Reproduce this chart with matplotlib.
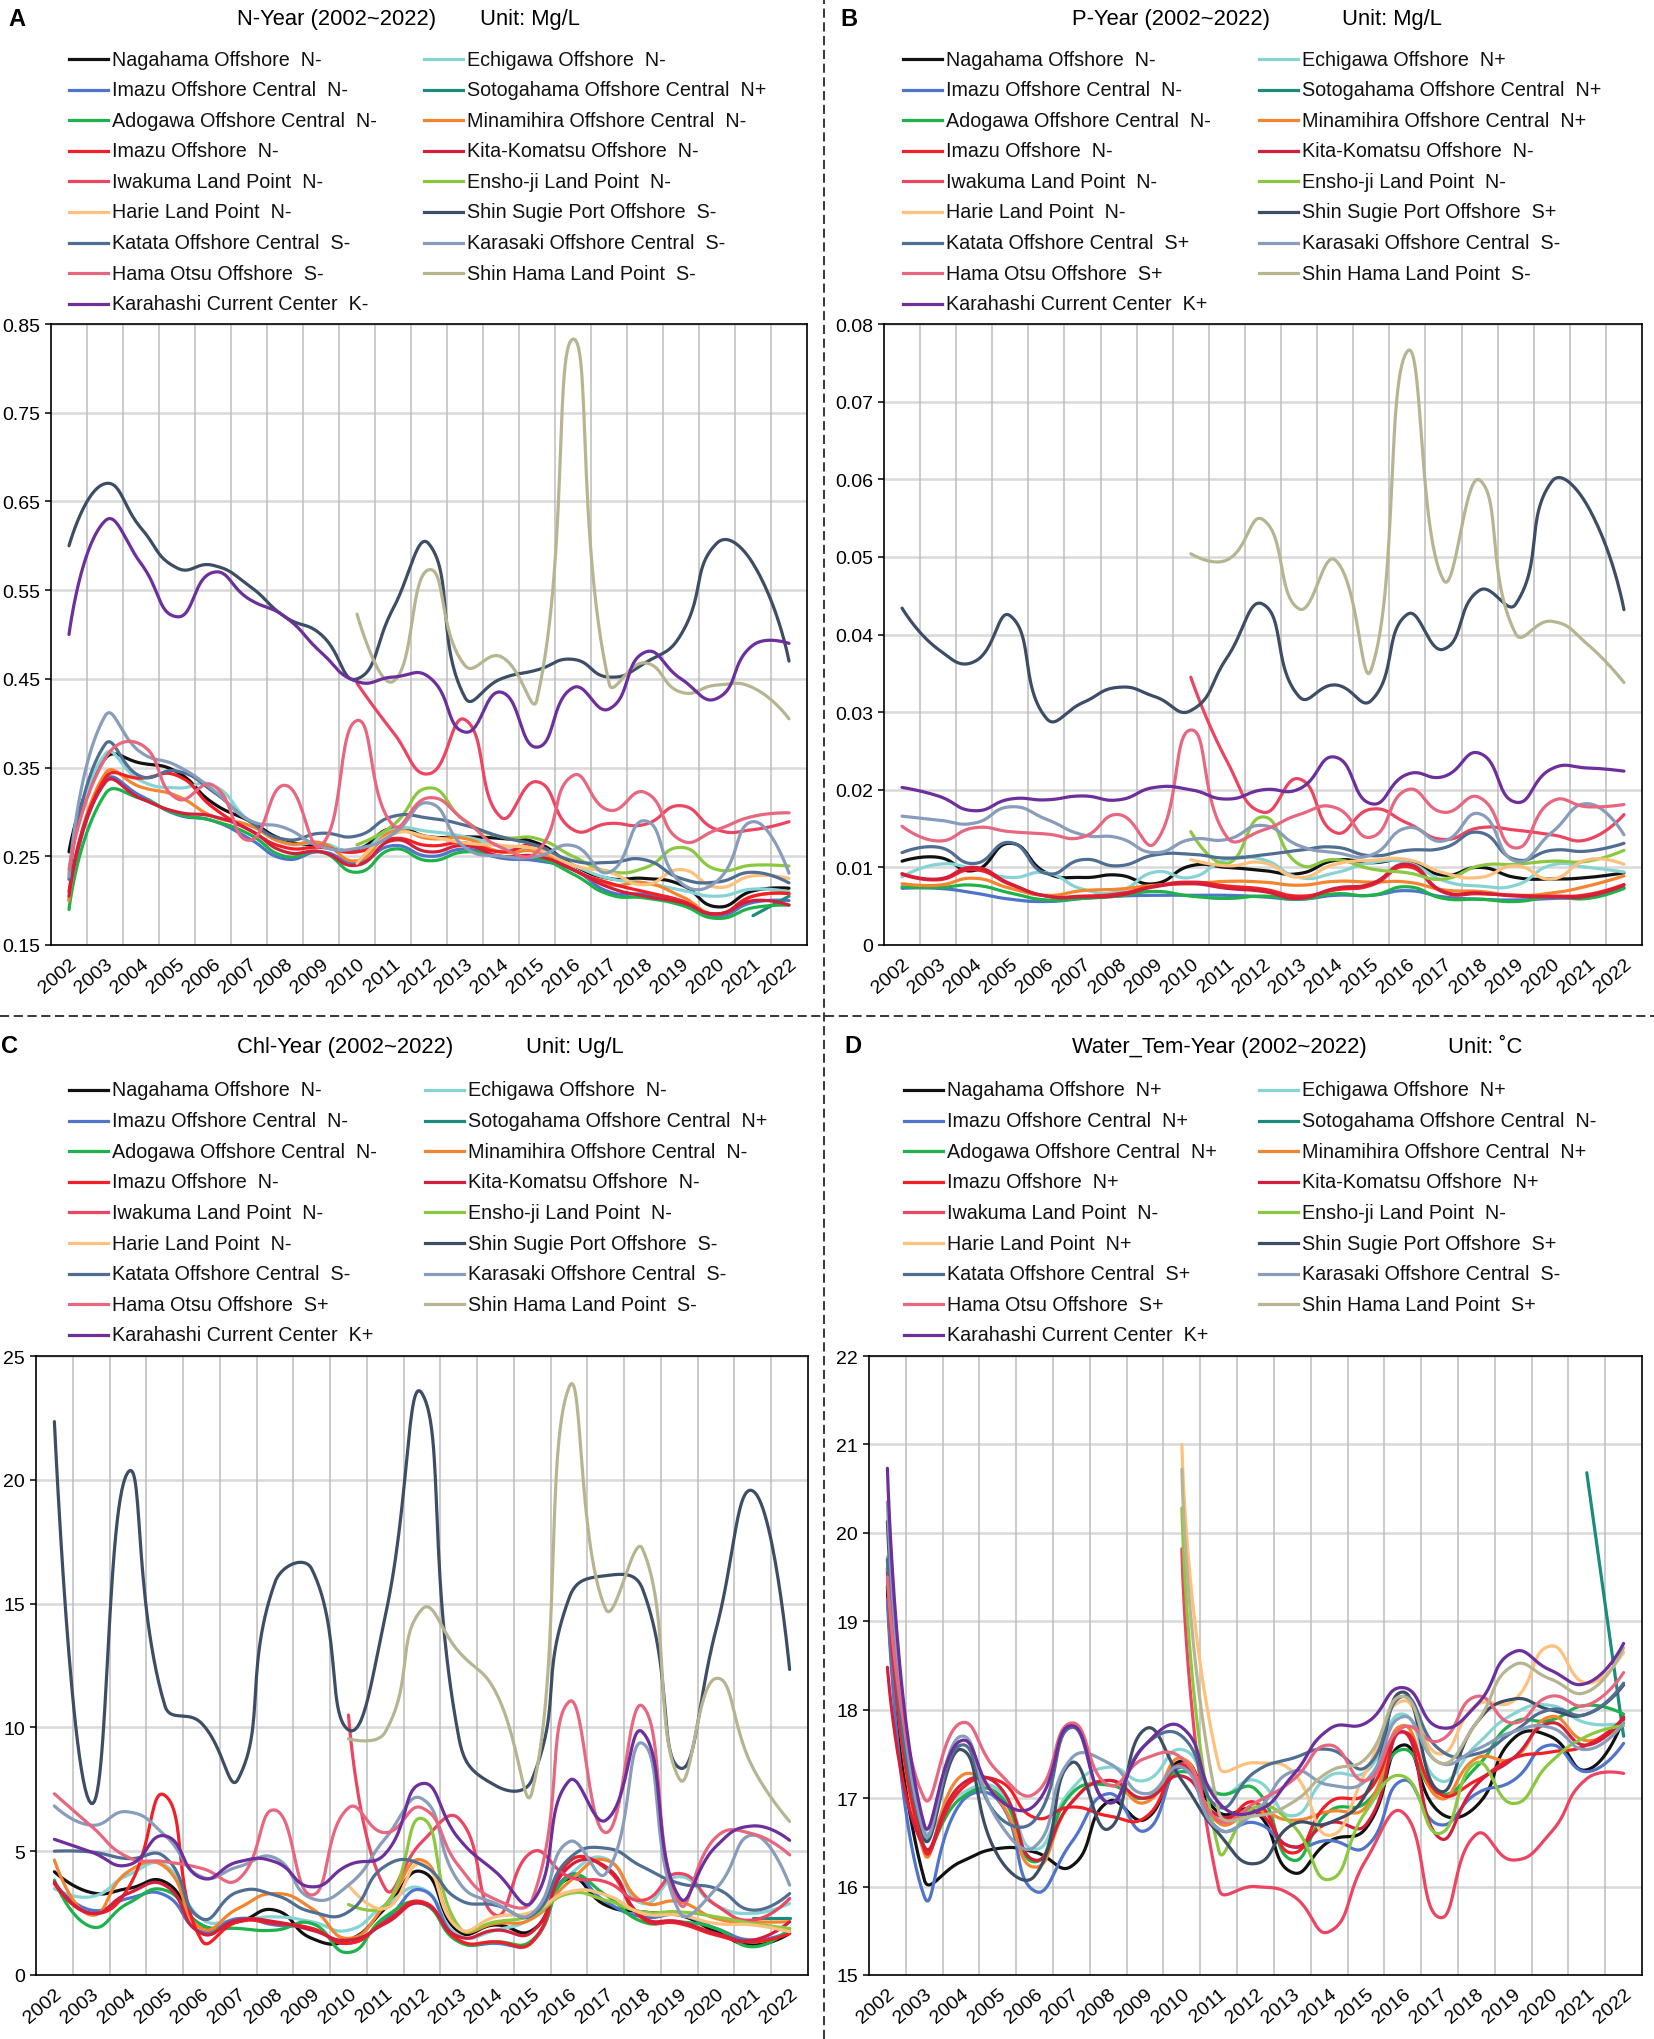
import numpy as np
import matplotlib
matplotlib.use('Agg')
import matplotlib.pyplot as plt
from matplotlib.lines import Line2D

plt.rcParams['font.family'] = ['Liberation Sans', 'DejaVu Sans']

YEARS = [str(y) for y in range(2002, 2023)]
NA = [None] * 8

STATIONS = ['Nagahama Offshore', 'Imazu Offshore Central', 'Adogawa Offshore Central',
            'Imazu Offshore', 'Iwakuma Land Point', 'Harie Land Point',
            'Katata Offshore Central', 'Hama Otsu Offshore', 'Karahashi Current Center',
            'Echigawa Offshore', 'Sotogahama Offshore Central', 'Minamihira Offshore Central',
            'Kita-Komatsu Offshore', 'Ensho-ji Land Point', 'Shin Sugie Port Offshore',
            'Karasaki Offshore Central', 'Shin Hama Land Point']
COLORS = ['#111111', '#4f74c9', '#1db34a', '#f21f26', '#eb4561', '#fec17d',
          '#4f6e92', '#e6677f', '#6c2f9b', '#86d3d3', '#1b8c7c', '#f5842e',
          '#d31f3c', '#8bc840', '#3c4d66', '#879dbb', '#b7b591']

# ---- Panel A: N ----
N_TREND = ['N-', 'N-', 'N-', 'N-', 'N-', 'N-', 'S-', 'S-', 'K-',
           'N-', 'N+', 'N-', 'N-', 'N-', 'S-', 'S-', 'S-']
N_nagahama = [0.255, 0.36, 0.355, 0.345, 0.31, 0.29, 0.268, 0.262, 0.258, 0.282, 0.272, 0.272, 0.27, 0.265, 0.24, 0.225, 0.225, 0.218, 0.193, 0.211, 0.214]
N_imazu_c = [0.20, 0.335, 0.318, 0.297, 0.29, 0.27, 0.247, 0.255, 0.243, 0.262, 0.25, 0.258, 0.248, 0.245, 0.235, 0.21, 0.207, 0.2, 0.183, 0.198, 0.2]
N_adogawa = [0.19, 0.32, 0.315, 0.298, 0.29, 0.275, 0.25, 0.255, 0.232, 0.258, 0.245, 0.255, 0.25, 0.248, 0.23, 0.207, 0.203, 0.195, 0.18, 0.192, 0.195]
N_imazu = [0.21, 0.338, 0.338, 0.341, 0.305, 0.28, 0.26, 0.26, 0.255, 0.27, 0.262, 0.265, 0.255, 0.262, 0.235, 0.22, 0.21, 0.2, 0.185, 0.205, 0.208]
N_iwakuma = NA + [0.445, 0.39, 0.343, 0.404, 0.294, 0.334, 0.28, 0.287, 0.286, 0.307, 0.28, 0.28, 0.289]
N_harie = NA + [0.242, 0.275, 0.272, 0.265, 0.262, 0.258, 0.24, 0.232, 0.218, 0.235, 0.215, 0.228, 0.225]
N_katata = [0.224, 0.376, 0.34, 0.346, 0.323, 0.29, 0.269, 0.276, 0.273, 0.295, 0.293, 0.285, 0.272, 0.262, 0.245, 0.243, 0.246, 0.225, 0.221, 0.232, 0.22]
N_hamaotsu = [0.235, 0.36, 0.376, 0.315, 0.33, 0.268, 0.33, 0.262, 0.403, 0.285, 0.316, 0.29, 0.26, 0.255, 0.341, 0.302, 0.322, 0.268, 0.28, 0.295, 0.299]
N_karahashi = [0.50, 0.628, 0.58, 0.52, 0.57, 0.54, 0.52, 0.48, 0.447, 0.452, 0.452, 0.39, 0.435, 0.373, 0.44, 0.416, 0.48, 0.45, 0.428, 0.488, 0.49]
N_echigawa = [0.23, 0.365, 0.335, 0.327, 0.33, 0.29, 0.265, 0.265, 0.255, 0.28, 0.278, 0.272, 0.262, 0.255, 0.24, 0.225, 0.22, 0.212, 0.205, 0.213, 0.21]
N_sotogahama = [None] * 19 + [0.183, 0.205]
N_minamihira = [0.2, 0.343, 0.328, 0.318, 0.295, 0.285, 0.265, 0.265, 0.245, 0.278, 0.27, 0.27, 0.255, 0.255, 0.235, 0.218, 0.22, 0.205, 0.185, 0.205, 0.208]
N_kita = [0.205, 0.333, 0.315, 0.3, 0.295, 0.28, 0.255, 0.255, 0.24, 0.268, 0.255, 0.262, 0.25, 0.25, 0.235, 0.215, 0.205, 0.198, 0.185, 0.2, 0.195]
N_ensho = NA + [0.263, 0.285, 0.327, 0.29, 0.272, 0.27, 0.25, 0.233, 0.237, 0.26, 0.235, 0.24, 0.239]
N_shinsugie = [0.60, 0.67, 0.62, 0.575, 0.578, 0.555, 0.52, 0.50, 0.45, 0.529, 0.602, 0.429, 0.45, 0.46, 0.472, 0.452, 0.468, 0.50, 0.603, 0.58, 0.47]
N_karasaki = [0.227, 0.408, 0.367, 0.352, 0.325, 0.291, 0.282, 0.261, 0.259, 0.275, 0.31, 0.26, 0.25, 0.25, 0.262, 0.232, 0.29, 0.22, 0.222, 0.289, 0.231]
N_shinhama = NA + [0.523, 0.447, 0.573, 0.465, 0.475, 0.427, 0.833, 0.445, 0.468, 0.435, 0.443, 0.44, 0.405]

# ---- Panel B: P ----
P_TREND = ['N-', 'N-', 'N-', 'N-', 'N-', 'N-', 'S+', 'S+', 'K+',
           'N+', 'N+', 'N+', 'N-', 'N-', 'S+', 'S-', 'S-']
P_nagahama = [0.0108, 0.0113, 0.0096, 0.0131, 0.0093, 0.0087, 0.009, 0.0079, 0.0102, 0.01, 0.0096, 0.0092, 0.0109, 0.0106, 0.0109, 0.009, 0.01, 0.0087, 0.0085, 0.0087, 0.0093]
P_imazu_c = [0.0073, 0.0073, 0.0067, 0.0059, 0.0056, 0.006, 0.0063, 0.0064, 0.0064, 0.0064, 0.0062, 0.0059, 0.0064, 0.0064, 0.007, 0.0062, 0.0059, 0.0058, 0.006, 0.0062, 0.0073]
P_adogawa = [0.0075, 0.0074, 0.0077, 0.0067, 0.0058, 0.006, 0.0063, 0.0069, 0.0063, 0.006, 0.0063, 0.0059, 0.0066, 0.0064, 0.0075, 0.006, 0.0059, 0.0056, 0.0062, 0.006, 0.0073]
P_imazu = [0.0091, 0.0084, 0.0097, 0.0078, 0.0063, 0.0063, 0.0066, 0.0076, 0.0081, 0.0076, 0.0072, 0.0063, 0.0071, 0.0077, 0.0101, 0.0068, 0.0066, 0.0064, 0.0063, 0.0065, 0.0078]
P_iwakuma = NA + [0.0345, 0.0237, 0.0171, 0.0214, 0.0145, 0.0175, 0.0157, 0.0136, 0.0151, 0.0148, 0.0142, 0.0136, 0.0168]
P_harie = NA + [0.011, 0.0102, 0.0106, 0.0087, 0.0104, 0.0109, 0.011, 0.0093, 0.0087, 0.0102, 0.0085, 0.011, 0.0104]
P_katata = [0.0119, 0.0126, 0.0105, 0.0132, 0.0092, 0.011, 0.0102, 0.0116, 0.0117, 0.0112, 0.0116, 0.0122, 0.0126, 0.0115, 0.0122, 0.0125, 0.0145, 0.011, 0.0122, 0.0121, 0.0131]
P_hamaotsu = [0.0153, 0.0134, 0.0151, 0.0146, 0.0143, 0.0139, 0.0168, 0.0131, 0.0277, 0.0139, 0.0148, 0.0168, 0.0177, 0.0139, 0.02, 0.0171, 0.019, 0.0125, 0.0185, 0.0178, 0.0181]
P_karahashi = [0.0203, 0.0192, 0.0173, 0.0188, 0.0187, 0.0192, 0.0187, 0.0203, 0.02, 0.0188, 0.02, 0.0201, 0.0242, 0.0182, 0.022, 0.0217, 0.0247, 0.0184, 0.0227, 0.0228, 0.0224]
P_echigawa = [0.0088, 0.0104, 0.0098, 0.0087, 0.0093, 0.0072, 0.0069, 0.0094, 0.0087, 0.011, 0.011, 0.0087, 0.0093, 0.0106, 0.0106, 0.0083, 0.0076, 0.0077, 0.0103, 0.01, 0.0094]
P_sotogahama = [None] * 19 + [0.0062, 0.0074]
P_minamihira = [0.0079, 0.0077, 0.0086, 0.0073, 0.0064, 0.007, 0.0072, 0.0077, 0.0079, 0.0082, 0.0081, 0.0077, 0.0082, 0.0081, 0.0081, 0.0071, 0.0069, 0.0064, 0.0067, 0.0076, 0.0089]
P_kita = [0.0092, 0.0085, 0.01, 0.0079, 0.0063, 0.0062, 0.0064, 0.0075, 0.0079, 0.0073, 0.0069, 0.006, 0.0073, 0.0079, 0.0104, 0.0069, 0.0067, 0.0063, 0.0062, 0.0063, 0.0077]
P_ensho = NA + [0.0146, 0.0105, 0.0165, 0.0104, 0.011, 0.0098, 0.0093, 0.0085, 0.0102, 0.0104, 0.0108, 0.0108, 0.0122]
P_shinsugie = [0.0434, 0.0381, 0.0365, 0.0424, 0.0292, 0.0312, 0.0332, 0.032, 0.0302, 0.037, 0.0439, 0.032, 0.0335, 0.0315, 0.0426, 0.0381, 0.0457, 0.0439, 0.0597, 0.0565, 0.0432]
P_karasaki = [0.0166, 0.0161, 0.0157, 0.0178, 0.0162, 0.0142, 0.0138, 0.0119, 0.0136, 0.0136, 0.0154, 0.0128, 0.0119, 0.0116, 0.0151, 0.0134, 0.0169, 0.0108, 0.0145, 0.0182, 0.0142]
P_shinhama = NA + [0.0504, 0.0496, 0.0548, 0.0433, 0.0496, 0.0355, 0.0765, 0.047, 0.0599, 0.0401, 0.0417, 0.0387, 0.0338]

# ---- Panel C: Chl ----
C_TREND = ['N-', 'N-', 'N-', 'N-', 'N-', 'N-', 'S-', 'S+', 'K+',
           'N-', 'N+', 'N-', 'N-', 'N-', 'S-', 'S-', 'S-']
C_nagahama = [4.17, 3.33, 3.49, 3.76, 2.02, 2.15, 2.62, 1.48, 1.41, 2.69, 4.17, 1.75, 2.02, 1.81, 3.9, 2.82, 2.55, 2.42, 1.75, 1.21, 1.68]
C_imazu_c = [3.7, 2.62, 3.09, 3.23, 1.75, 2.28, 2.02, 1.88, 1.28, 2.22, 3.43, 1.41, 1.28, 1.34, 4.03, 2.96, 2.35, 2.42, 1.88, 1.41, 1.75]
C_adogawa = [3.83, 1.95, 2.89, 3.43, 2.02, 1.88, 1.81, 2.08, 0.91, 2.35, 2.89, 1.34, 1.34, 1.41, 3.97, 3.23, 2.15, 2.15, 1.88, 1.14, 1.88]
C_imazu = [3.7, 2.49, 3.49, 7.26, 1.41, 2.15, 2.08, 1.88, 1.28, 2.15, 2.96, 1.41, 1.34, 1.34, 4.57, 4.3, 2.28, 2.08, 1.61, 1.34, 1.68]
C_iwakuma = NA + [10.5, 3.49, 5.38, 6.32, 2.42, 4.97, 3.97, 3.76, 3.02, 4.1, 2.82, 2.22, 3.09]
C_harie = NA + [3.63, 2.69, 4.5, 1.88, 2.35, 2.55, 3.36, 3.23, 2.49, 2.42, 2.08, 2.02, 1.75]
C_katata = [5.0, 4.97, 4.7, 4.77, 2.28, 3.36, 3.23, 2.55, 2.55, 4.4, 4.45, 3.05, 2.82, 2.42, 4.7, 5.12, 4.37, 3.7, 3.49, 2.62, 3.29]
C_hamaotsu = [7.32, 6.02, 4.76, 4.58, 4.31, 3.86, 6.66, 3.23, 6.75, 5.75, 6.75, 4.4, 3.05, 3.05, 11.04, 5.75, 10.86, 2.9, 5.57, 5.7, 4.85]
C_karahashi = [5.48, 4.97, 4.44, 5.62, 3.92, 4.57, 4.57, 3.56, 4.44, 4.9, 7.73, 5.51, 4.17, 2.96, 7.84, 6.25, 9.81, 3.14, 5.2, 6.02, 5.44]
C_echigawa = [3.49, 3.16, 4.03, 4.44, 2.28, 2.22, 2.35, 2.15, 1.81, 2.82, 3.49, 1.61, 1.81, 2.35, 4.03, 4.7, 2.89, 3.97, 2.82, 2.49, 2.89]
C_sotogahama = [None] * 19 + [2.3, 2.3]
C_minamihira = [4.64, 2.42, 4.17, 4.37, 1.88, 2.69, 3.29, 2.69, 1.48, 2.82, 4.64, 1.88, 2.08, 2.28, 3.76, 4.64, 2.96, 2.96, 2.28, 2.15, 2.15]
C_kita = [3.76, 2.49, 3.29, 3.63, 1.68, 2.22, 2.15, 1.81, 1.41, 2.08, 2.89, 1.55, 1.81, 1.75, 4.37, 4.37, 2.35, 2.15, 1.68, 1.41, 2.15]
C_ensho = NA + [2.85, 2.82, 6.32, 1.95, 2.15, 2.42, 3.29, 3.02, 2.55, 2.55, 2.35, 2.08, 1.88]
C_shinsugie = [22.35, 6.93, 20.3, 10.9, 10.17, 7.92, 15.86, 16.4, 9.9, 14.5, 23.49, 9.6, 7.65, 7.92, 15.22, 16.13, 15.59, 8.37, 13.96, 19.55, 12.34]
C_karasaki = [6.83, 6.05, 6.59, 5.65, 3.97, 4.37, 4.73, 3.09, 3.63, 5.51, 7.12, 3.76, 2.89, 2.49, 5.38, 4.1, 9.36, 2.55, 3.49, 5.65, 3.63]
C_shinhama = NA + [9.54, 9.81, 14.77, 13.06, 11.44, 7.43, 23.74, 14.77, 17.21, 7.92, 11.98, 8.37, 6.2]

# ---- Panel D: Water temperature ----
D_TREND = ['N+', 'N+', 'N+', 'N+', 'N-', 'N+', 'S+', 'S+', 'K+',
           'N+', 'N-', 'N+', 'N+', 'N-', 'S+', 'S-', 'S+']
D_nagahama = [19.4, 16.08, 16.28, 16.43, 16.39, 16.23, 16.96, 16.76, 17.42, 16.84, 16.85, 16.16, 16.51, 16.66, 17.6, 16.84, 16.91, 17.67, 17.7, 17.32, 17.9]
D_imazu_c = [19.25, 15.89, 16.95, 16.98, 15.95, 16.5, 17.05, 16.63, 17.35, 16.65, 16.72, 16.45, 16.52, 16.45, 17.2, 16.7, 17.05, 17.2, 17.6, 17.3, 17.62]
D_adogawa = [19.6, 16.45, 17.0, 17.05, 16.28, 17.05, 17.15, 17.0, 17.3, 17.05, 17.1, 16.3, 16.85, 16.95, 17.55, 17.05, 17.35, 17.85, 17.88, 18.05, 17.95]
D_imazu = [19.55, 16.42, 17.1, 17.2, 16.78, 16.9, 16.8, 16.78, 17.38, 16.75, 16.95, 16.38, 16.95, 17.05, 17.75, 17.05, 17.2, 17.45, 17.52, 17.6, 17.9]
D_iwakuma = NA + [19.82, 15.98, 16.0, 15.9, 15.49, 16.3, 16.84, 15.65, 16.59, 16.3, 16.6, 17.22, 17.28]
D_harie = NA + [21.0, 17.37, 17.4, 17.3, 16.58, 17.3, 18.1, 17.5, 18.05, 18.1, 18.72, 18.3, 18.65]
D_katata = [19.7, 16.6, 17.6, 16.8, 16.75, 17.8, 16.95, 17.6, 17.7, 16.9, 17.3, 17.45, 17.55, 17.35, 18.15, 17.55, 17.5, 17.75, 18.0, 17.95, 18.3]
D_hamaotsu = [19.5, 17.0, 17.85, 17.3, 17.05, 17.85, 17.15, 17.45, 17.45, 16.75, 16.95, 17.2, 17.6, 17.2, 17.8, 17.65, 18.15, 17.85, 18.15, 18.05, 18.42]
D_karahashi = [20.73, 16.7, 17.65, 17.0, 16.92, 17.82, 16.95, 17.6, 17.8, 16.95, 16.85, 17.25, 17.78, 17.85, 18.25, 17.8, 18.05, 18.65, 18.45, 18.3, 18.75]
D_echigawa = [19.73, 16.65, 17.05, 17.1, 16.42, 17.1, 17.35, 17.2, 17.55, 17.05, 17.2, 16.8, 17.25, 17.3, 17.95, 17.2, 17.6, 17.95, 18.05, 17.85, 17.85]
D_sotogahama = [None] * 19 + [20.68, 17.7]
D_minamihira = [19.6, 16.38, 17.25, 17.0, 16.22, 16.95, 17.2, 16.95, 17.45, 16.72, 16.85, 16.75, 16.85, 16.9, 17.82, 17.0, 17.45, 17.45, 17.92, 17.65, 17.85]
D_kita = [18.48, 16.45, 17.15, 17.15, 16.3, 16.95, 17.2, 17.0, 17.25, 16.8, 16.85, 16.45, 16.72, 16.7, 17.75, 16.55, 17.15, 17.45, 17.85, 17.6, 17.92]
D_ensho = NA + [20.28, 16.41, 16.9, 16.7, 16.08, 16.85, 17.25, 16.6, 17.4, 16.94, 17.4, 17.7, 17.82]
D_shinsugie = [20.13, 16.55, 17.55, 16.35, 16.12, 17.4, 16.65, 17.78, 17.2, 16.6, 16.26, 16.7, 16.72, 17.05, 18.2, 17.08, 17.85, 18.12, 18.0, 17.95, 18.28]
D_karasaki = [20.35, 16.6, 17.7, 16.75, 16.45, 17.45, 17.4, 17.05, 17.35, 16.65, 16.85, 17.3, 17.15, 17.2, 17.92, 17.4, 17.55, 17.75, 17.8, 17.55, 17.85]
D_shinhama = NA + [20.72, 16.85, 16.8, 16.95, 17.3, 17.45, 18.15, 17.4, 17.85, 18.5, 18.35, 18.2, 18.7]

N_SERIES = [N_nagahama, N_imazu_c, N_adogawa, N_imazu, N_iwakuma, N_harie, N_katata, N_hamaotsu, N_karahashi,
            N_echigawa, N_sotogahama, N_minamihira, N_kita, N_ensho, N_shinsugie, N_karasaki, N_shinhama]
P_SERIES = [P_nagahama, P_imazu_c, P_adogawa, P_imazu, P_iwakuma, P_harie, P_katata, P_hamaotsu, P_karahashi,
            P_echigawa, P_sotogahama, P_minamihira, P_kita, P_ensho, P_shinsugie, P_karasaki, P_shinhama]
C_SERIES = [C_nagahama, C_imazu_c, C_adogawa, C_imazu, C_iwakuma, C_harie, C_katata, C_hamaotsu, C_karahashi,
            C_echigawa, C_sotogahama, C_minamihira, C_kita, C_ensho, C_shinsugie, C_karasaki, C_shinhama]
D_SERIES = [D_nagahama, D_imazu_c, D_adogawa, D_imazu, D_iwakuma, D_harie, D_katata, D_hamaotsu, D_karahashi,
            D_echigawa, D_sotogahama, D_minamihira, D_kita, D_ensho, D_shinsugie, D_karasaki, D_shinhama]

W, H = 1654, 2040
fig = plt.figure(figsize=(W / 100, H / 100), dpi=100)


def fx(x):
    return x / W


def fy(y):
    return 1 - y / H


def smooth_curve(xs, ys, sx, sy, smooth=0.5, n=30):
    P = np.column_stack([np.asarray(xs, float) * sx, np.asarray(ys, float) * sy])
    m = len(P)
    if m < 2:
        return np.asarray(xs, float), np.asarray(ys, float)
    cpL = P.copy()
    cpR = P.copy()
    for i in range(1, m - 1):
        prev, nxt = P[i - 1], P[i + 1]
        v = nxt - prev
        d0 = np.hypot(*(P[i] - prev))
        d1 = np.hypot(*(nxt - P[i]))
        s = d0 + d1
        if s > 0:
            d0, d1 = d0 / s, d1 / s
        cpL[i] = P[i] - v * smooth * d0
        cpR[i] = P[i] + v * smooth * d1
    t = np.linspace(0, 1, n)[:, None]
    pts = []
    for i in range(m - 1):
        p0, p1, p2, p3 = P[i], cpR[i], cpL[i + 1], P[i + 1]
        seg = (1 - t) ** 3 * p0 + 3 * (1 - t) ** 2 * t * p1 + 3 * (1 - t) * t ** 2 * p2 + t ** 3 * p3
        pts.append(seg if i == 0 else seg[1:])
    pts = np.vstack(pts)
    return pts[:, 0] / sx, pts[:, 1] / sy


ORDER = []
for r in range(9):
    ORDER.append(r)
    if r + 9 < 17:
        ORDER.append(r + 9)

panels = [
    dict(letter='A', lx=8, ly=19, title='N-Year (2002~2022)', tx=237, unit='Unit: Mg/L', ux=480, ty=20,
         rows=60, c1=69, c2=424, rect=(51, 325, 807, 946), ylim=(0.15, 0.85),
         yticks=[0.15, 0.25, 0.35, 0.45, 0.55, 0.65, 0.75, 0.85], fmt='{:.2f}', series=N_SERIES, trend=N_TREND),
    dict(letter='B', lx=840, ly=19, title='P-Year (2002~2022)', tx=1072, unit='Unit: Mg/L', ux=1342, ty=20,
         rows=60, c1=903, c2=1259, rect=(884, 325, 1642, 946), ylim=(0, 0.08),
         yticks=[0, 0.01, 0.02, 0.03, 0.04, 0.05, 0.06, 0.07, 0.08], fmt='{:g}', series=P_SERIES, trend=P_TREND),
    dict(letter='C', lx=1, ly=1047, title='Chl-Year (2002~2022)', tx=237, unit='Unit: Ug/L', ux=526, ty=1048,
         rows=1091, c1=69, c2=425, rect=(36, 1357, 808, 1976), ylim=(0, 25),
         yticks=[0, 5, 10, 15, 20, 25], fmt='{:g}', series=C_SERIES, trend=C_TREND),
    dict(letter='D', lx=844, ly=1047, title='Water_Tem-Year (2002~2022)', tx=1072, unit='Unit: \u02daC', ux=1448, ty=1048,
         rows=1091, c1=904, c2=1259, rect=(869, 1357, 1642, 1976), ylim=(15, 22),
         yticks=[15, 16, 17, 18, 19, 20, 21, 22], fmt='{:g}', series=D_SERIES, trend=D_TREND),
]

LW = 2.3
for p in panels:
    fig.text(fx(p['lx']), fy(p['ly']), p['letter'], fontsize=17, fontweight='bold', ha='left', va='center')
    fig.text(fx(p['tx']), fy(p['ty']), p['title'], fontsize=15.8, ha='left', va='center')
    fig.text(fx(p['ux']), fy(p['ty']), p['unit'], fontsize=15.8, ha='left', va='center')
    # legend
    for k in range(17):
        col = 0 if k < 9 else 1
        row = k if k < 9 else k - 9
        x0 = p['c1'] if col == 0 else p['c2']
        y0 = p['rows'] + 30.6 * row
        fig.add_artist(Line2D([fx(x0), fx(x0 + 39)], [fy(y0), fy(y0)], color=COLORS[k], lw=2.3,
                              transform=fig.transFigure))
        fig.text(fx(x0 + 43), fy(y0), STATIONS[k] + '  ' + p['trend'][k], fontsize=14.2,
                 ha='left', va='center', color='#111111')
    l, t, r, b = p['rect']
    ax = fig.add_axes([fx(l), fy(b), (r - l) / W, (b - t) / H])
    ymin, ymax = p['ylim']
    sx = (r - l) / 21.0
    sy = (b - t) / (ymax - ymin)
    for k in ORDER:
        vals = p['series'][k]
        idx = [i for i, v in enumerate(vals) if v is not None]
        xs = np.array(idx, float)
        ys = np.array([vals[i] for i in idx], float)
        cx, cy = smooth_curve(xs, ys, sx, sy)
        ax.plot(cx, cy, color=COLORS[k], lw=LW, solid_capstyle='round', solid_joinstyle='round', zorder=3)
    ax.set_xlim(-0.5, 20.5)
    ax.set_ylim(ymin, ymax)
    ax.set_yticks(p['yticks'])
    ax.set_yticklabels([p['fmt'].format(v) for v in p['yticks']], fontsize=14)
    ax.set_xticks(range(21))
    ax.set_xticklabels(YEARS, fontsize=14, rotation=40, ha='right', va='top', rotation_mode='anchor')
    ax.set_xticks(np.arange(0.5, 20, 1.0), minor=True)
    ax.tick_params(axis='x', which='both', length=0, pad=7)
    ax.tick_params(axis='y', which='major', length=4, width=1.1, pad=4, direction='out')
    ax.tick_params(axis='y', which='minor', length=0)
    for yv in p['yticks']:
        ax.axhline(yv, color='#d9d9d9', lw=1.8, zorder=1)
    for xv in np.arange(0.5, 20, 1.0):
        ax.axvline(xv, color='#bdbdbd', lw=1.1, zorder=1)
    for s in ax.spines.values():
        s.set_color('black')
        s.set_linewidth(1.2)
        s.set_zorder(5)

# dashed dividers
fig.add_artist(Line2D([fx(824), fx(824)], [0, 1], color='black', lw=1.1, linestyle=(0, (6, 3)),
                      transform=fig.transFigure))
fig.add_artist(Line2D([0, 1], [fy(1017), fy(1017)], color='black', lw=1.1, linestyle=(0, (6, 3)),
                      transform=fig.transFigure))

fig.savefig('out.png', dpi=100)
